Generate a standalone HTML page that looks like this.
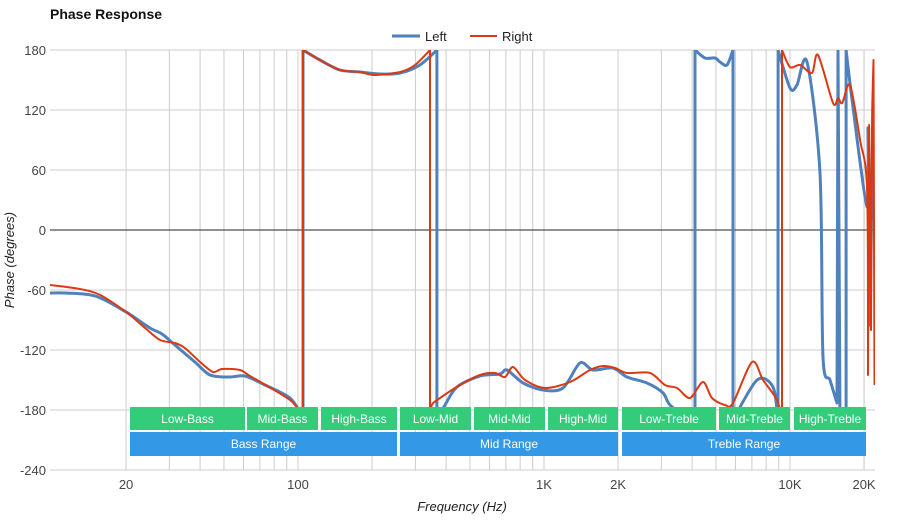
<!DOCTYPE html>
<html><head><meta charset="utf-8"><style>
body{margin:0;background:#fff;font-family:"Liberation Sans",Arial,sans-serif}
svg text{font-family:"Liberation Sans",Arial,sans-serif}
</style></head><body>
<svg id="chart" width="900" height="520" xmlns="http://www.w3.org/2000/svg">
<text x="50" y="19" font-size="14" font-weight="bold" fill="#111">Phase Response</text>
<g>
<g><line x1="392" y1="36" x2="420" y2="36" stroke="#4f81bd" stroke-width="3"/><text x="425" y="41" font-size="13" fill="#222">Left</text></g>
<g><line x1="470" y1="36" x2="497" y2="36" stroke="#dc3912" stroke-width="2"/><text x="502" y="41" font-size="13" fill="#222">Right</text></g>
</g>
<g id="grid"></g>
<g id="yaxis"></g>
<g id="xaxis"></g>
<defs><clipPath id="clip"><rect x="50" y="50" width="825" height="420"/></clipPath></defs>
<g id="series" clip-path="url(#clip)"></g>
<g id="bands"></g>
<text x="14" y="260" font-size="13" font-style="italic" fill="#222" text-anchor="middle" transform="rotate(-90 14 260)">Phase (degrees)</text>
<text x="462" y="511" font-size="13" font-style="italic" fill="#222" text-anchor="middle">Frequency (Hz)</text>
</svg>
<script>
const yTicks=[180,120,60,0,-60,-120,-180,-240];
const xTickVals=[20,100,1000,2000,10000,20000];
const xTickLabels=["20","100","1K","2K","10K","20K"];
const leftFreq=[9.8,11.3,15,20,25,28,31.6,38.1,43.9,52.9,60.9,73.4,92.8,103,104.8,104.8,122.8,148,178.6,215.4,260,313,367,367,396,443,549,662,707,822,991,1195,1400,1582,1906,2175,2623,3048,3252,3920,4111,4111,4511,4955,5193,5544,5865,5866,7349,8530,8941,8942,10000,10674,11727,13241,13613,14546,15524,15671,15962,16899,16900,18031,20571,20762,21159,21744];
const leftPhase=[-63,-63,-66,-82,-98,-104,-115,-132,-145,-147,-146,-155,-168,-185,-190,180,170,160,158,156,157,165,180,-190,-175,-157,-146,-144,-140,-153,-160,-158,-133,-140,-138,-147,-153,-163,-175,-190,-190,180,172,172,168,165,180,-190,-150,-157,-190,180,142,145,168,57,-127,-150,-173,180,-190,-190,180,123,23,100,-95,130];
const rightFreq=[9.8,13,15.7,20,23.9,27.5,31.6,34.7,40,45.1,49.1,58.1,63.8,92.8,103.8,104.8,104.8,122.8,148,178.6,205.6,260,299,344,344,350,378,456,549,632,694,748,837,1009,1276,1538,1738,1944,2175,2698,3105,3474,3920,4429,4817,5441,5865,7015,7770,8858,9276,9277,10000,11000,12274,12997,14957,15671,16300,17543,19272,20571,20762,20960,21350,21540,21850,22050];
const rightPhase=[-55,-59,-65,-82,-98,-110,-113,-118,-132,-142,-139,-140,-146,-170,-185,-190,180,170,160,158,155,158,165,180,-190,-175,-168,-155,-145,-143,-147,-137,-150,-158,-152,-140,-136,-138,-143,-143,-155,-158,-168,-152,-168,-175,-173,-132,-150,-170,-190,180,163,165,157,175,127,132,127,145,90,40,-145,105,-100,100,170,-155];
const bandNames=["Low-Bass","Mid-Bass","High-Bass","Low-Mid","Mid-Mid","High-Mid","Low-Treble","Mid-Treble","High-Treble"];
const bandEdges=[[130,245],[247,318],[321,397],[400,471],[474,545],[548,618],[622,716],[719,790],[794,866]];
const rangeNames=["Bass Range","Mid Range","Treble Range"];
const rangeEdges=[[130,397],[400,618],[622,866]];
const NS="http://www.w3.org/2000/svg";
const X=f=>298+246*Math.log10(f/100);
const Y=v=>50+(180-v);
function mk(t,a,p){const e=document.createElementNS(NS,t);for(const k in a)e.setAttribute(k,a[k]);p.appendChild(e);return e;}
const grid=document.getElementById('grid'),ya=document.getElementById('yaxis'),xa=document.getElementById('xaxis');
const gf=[];for(let d=10;d<=10000;d*=10)for(let m=1;m<10;m++){const f=d*m;if(f>=20&&f<=20000)gf.push(f);}gf.push(20000);
gf.forEach(f=>{const l=mk('line',{x1:X(f),x2:X(f),y1:50,y2:470,stroke:'#ccc','stroke-width':1},grid);

});
yTicks.forEach(v=>{const l=mk('line',{x1:50,x2:875,y1:Y(v),y2:Y(v),stroke:v===0?'#222':'#ccc','stroke-width':1},grid);


const t=mk('text',{x:46,y:Y(v)+5,'font-size':13,fill:'#444','text-anchor':'end'},ya);t.textContent=v;

});
xTickVals.forEach((f,i)=>{const t=mk('text',{x:X(f),y:489,'font-size':13,fill:'#444','text-anchor':'middle'},xa);t.textContent=xTickLabels[i];

});
const s=document.getElementById('series');
function smoothPath(pts){
  let d='';let segs=[[pts[0]]];
  for(let i=1;i<pts.length;i++){const a=pts[i-1],b=pts[i];
    if(Math.abs(b[1]-a[1])>200||Math.abs(b[0]-a[0])<0.6){segs.push([b]);}
    else segs[segs.length-1].push(b);}
  segs.forEach((sg,si)=>{
    d+=(si===0?'M':'L')+sg[0][0].toFixed(1)+','+sg[0][1].toFixed(1);
    for(let i=0;i<sg.length-1;i++){
      const p0=sg[Math.max(0,i-1)],p1=sg[i],p2=sg[i+1],p3=sg[Math.min(sg.length-1,i+2)];
      const t=0.15;
      const c1=[p1[0]+(p2[0]-p0[0])*t,p1[1]+(p2[1]-p0[1])*t];
      const c2=[p2[0]-(p3[0]-p1[0])*t,p2[1]-(p3[1]-p1[1])*t];
      d+='C'+c1[0].toFixed(1)+','+c1[1].toFixed(1)+' '+c2[0].toFixed(1)+','+c2[1].toFixed(1)+' '+p2[0].toFixed(1)+','+p2[1].toFixed(1);
    }});
  return d;}
function line(fr,ph,col,w,name){const pts=fr.map((f,i)=>[X(f),Y(ph[i])]);
const p=mk('path',{d:smoothPath(pts),fill:'none',stroke:col,'stroke-width':w,'stroke-linejoin':'round'},s);

}
line(leftFreq,leftPhase,'#4f81bd',3,'left-series-line');
line(rightFreq,rightPhase,'#dc3912',2,'right-series-line');
const b=document.getElementById('bands');
bandNames.forEach((n,i)=>{const [a,c]=bandEdges[i];const r=mk('rect',{x:a,y:407,width:c-a,height:23,fill:'#33cc7a'},b);


const t=mk('text',{x:(a+c)/2,y:423,'font-size':12,fill:'#fff','text-anchor':'middle'},b);t.textContent=n;

});
rangeNames.forEach((n,i)=>{const [a,c]=rangeEdges[i];const r=mk('rect',{x:a,y:432,width:c-a,height:24,fill:'#3399e6'},b);


const t=mk('text',{x:(a+c)/2,y:448,'font-size':12,fill:'#fff','text-anchor':'middle'},b);t.textContent=n;

});
</script>
</body></html>
